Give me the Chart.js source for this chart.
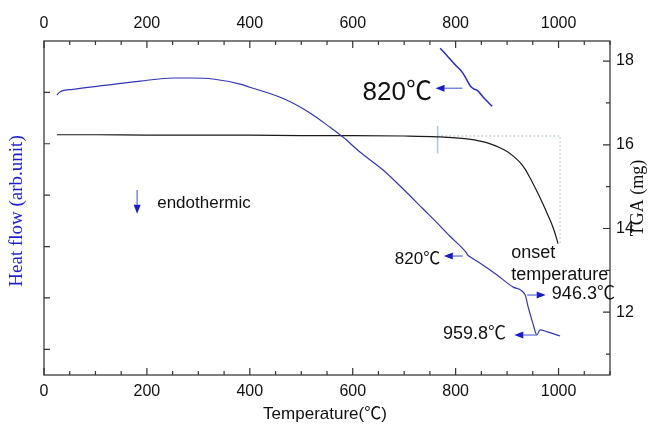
<!DOCTYPE html>
<html>
<head>
<meta charset="utf-8">
<script src="https://cdn.jsdelivr.net/npm/chart.js@4.4.1/dist/chart.umd.min.js"></script>
<style>
  html, body { margin: 0; padding: 0; background: #fff; }
  #wrap { width: 653px; height: 429px; }
</style>
</head>
<body>
<div id="wrap"><canvas id="dscTga" width="653" height="429"></canvas></div>
<script>
// heat flow (DSC) curve, arbitrary units on the left axis
const hfTemp = [25, 30, 35, 56, 122, 187, 251, 284, 328, 381, 400, 465, 517, 556, 581, 614, 659, 698, 737, 764, 789, 813, 820, 824, 828, 847, 880, 912, 935, 941, 950, 958, 964, 978, 1003];
const hfValue = [4.95, 5.0, 5.03, 5.06, 5.14, 5.22, 5.28, 5.28, 5.26, 5.16, 5.10, 4.88, 4.60, 4.32, 4.13, 3.84, 3.49, 3.12, 2.73, 2.46, 2.20, 1.97, 1.89, 1.83, 1.80, 1.68, 1.45, 1.21, 1.06, 0.82, 0.51, 0.28, 0.38, 0.34, 0.26];

// magnified piece of the heat flow curve around 820 C
const insetTemp = [770, 780, 790, 800, 813, 822, 829, 835, 842, 856, 871];
const insetValue = [5.86, 5.75, 5.64, 5.53, 5.39, 5.24, 5.12, 5.07, 5.04, 4.88, 4.73];

// TGA mass curve (mg), right axis
const tgaTemp = [25, 100, 200, 300, 400, 500, 600, 700, 765, 822, 850, 870, 886, 900, 912, 925, 935, 945, 955, 965, 975, 985, 992, 999];
const tgaMass = [16.24, 16.24, 16.23, 16.23, 16.23, 16.22, 16.22, 16.21, 16.19, 16.14, 16.08, 16.01, 15.93, 15.84, 15.73, 15.58, 15.42, 15.20, 14.96, 14.71, 14.44, 14.16, 13.93, 13.64];

// onset construction lines
const onsetTemp = [765, 1003, 1003];
const onsetMass = [16.21, 16.21, 13.6];
const markerTemp = [765, 765];
const markerMass = [16.45, 15.79];

const tempTicks = [0, 200, 400, 600, 800, 1000];
const tgaTicks = [12, 14, 16, 18];
const hfTicks = [0, 1, 2, 3, 4, 5];

// text notes: [text, temperature, heat flow, align, size]
const notes = [
  ['820℃', 754, 5.0, 'right', 26],
  ['endothermic', 220, 2.85, 'left', 17],
  ['820℃', 770, 1.76, 'right', 17],
  ['onset', 908, 1.87, 'left', 18],
  ['temperature', 908, 1.445, 'left', 18],
  ['946.3℃', 987, 1.08, 'left', 18],
  ['959.8℃', 898, 0.30, 'right', 18]
];
// arrows: [fromT, fromHF, toT, toHF]
const arrows = [
  [813, 5.08, 761, 5.08],
  [814, 1.815, 777, 1.815],
  [939, 1.056, 975, 1.056],
  [958, 0.278, 914, 0.278],
  [181, 3.10, 181, 2.64]
];

const pts = (xs, ys) => xs.map((x, i) => ({ x: x, y: ys[i] }));
const SANS = '"Liberation Sans", Arial, "Noto Sans CJK SC", sans-serif';
const SERIF = '"Liberation Serif", "Times New Roman", serif';

function arrow(ctx, x1, y1, x2, y2) {
  const ang = Math.atan2(y2 - y1, x2 - x1);
  const hl = 9, hw = 3.5;
  const bx = x2 - hl * Math.cos(ang), by = y2 - hl * Math.sin(ang);
  ctx.strokeStyle = '#7c88e0';
  ctx.lineWidth = 1.5;
  ctx.beginPath();
  ctx.moveTo(x1, y1);
  ctx.lineTo(bx, by);
  ctx.stroke();
  ctx.fillStyle = '#1a1ad0';
  ctx.beginPath();
  ctx.moveTo(x2, y2);
  ctx.lineTo(bx - hw * Math.sin(ang), by + hw * Math.cos(ang));
  ctx.lineTo(bx + hw * Math.sin(ang), by - hw * Math.cos(ang));
  ctx.closePath();
  ctx.fill();
}

const decor = {
  id: 'decor',
  afterDatasetsDraw(chart) {
    const ctx = chart.ctx;
    const a = chart.chartArea;
    const sx = chart.scales.x, sy = chart.scales.y, sy2 = chart.scales.y2;
    ctx.save();

    // frame
    ctx.strokeStyle = '#555';
    ctx.lineWidth = 1.5;
    ctx.strokeRect(a.left, a.top, a.right - a.left, a.bottom - a.top);

    // inward ticks
    ctx.lineWidth = 1.2;
    ctx.strokeStyle = '#333';
    ctx.beginPath();
    for (let t = 0; t <= 1100; t += 50) {
      const px = sx.getPixelForValue(t);
      const len = t % 200 === 0 ? 7 : 4;
      ctx.moveTo(px, a.bottom); ctx.lineTo(px, a.bottom - len);
      ctx.moveTo(px, a.top); ctx.lineTo(px, a.top + len);
    }
    for (let m = 11; m <= 18; m++) {
      const py = sy2.getPixelForValue(m);
      const len = m % 2 === 0 ? 7 : 4;
      ctx.moveTo(a.right, py); ctx.lineTo(a.right - len, py);
    }
    hfTicks.forEach(v => {
      const py = sy.getPixelForValue(v);
      ctx.moveTo(a.left, py); ctx.lineTo(a.left + 6, py);
    });
    ctx.stroke();

    // tick labels
    ctx.fillStyle = '#111';
    ctx.font = '16px ' + SANS;
    ctx.textAlign = 'center';
    ctx.textBaseline = 'middle';
    tempTicks.forEach(t => {
      const px = sx.getPixelForValue(t);
      ctx.fillText(String(t), px, a.bottom + 17);
      ctx.fillText(String(t), px, a.top - 17);
    });
    ctx.textAlign = 'left';
    tgaTicks.forEach(m => {
      ctx.fillText(String(m), a.right + 6, sy2.getPixelForValue(m));
    });

    // axis titles
    ctx.textAlign = 'center';
    ctx.font = '17px ' + SANS;
    ctx.fillText('Temperature(℃)', (a.left + a.right) / 2 - 2, 414);
    ctx.save();
    ctx.translate(17, 211);
    ctx.rotate(-Math.PI / 2);
    ctx.fillStyle = '#1f1fd0';
    ctx.font = '19px ' + SERIF;
    ctx.fillText('Heat flow (arb.unit)', 0, 0);
    ctx.restore();
    ctx.save();
    ctx.translate(638, 198);
    ctx.rotate(-Math.PI / 2);
    ctx.fillStyle = '#111';
    ctx.font = '18px ' + SERIF;
    ctx.fillText('TGA (mg)', 0, 0);
    ctx.restore();

    // notes and arrows
    notes.forEach(n => {
      ctx.font = n[4] + 'px ' + SANS;
      ctx.textAlign = n[3];
      ctx.fillStyle = '#111';
      ctx.fillText(n[0], sx.getPixelForValue(n[1]), sy.getPixelForValue(n[2]));
    });
    arrows.forEach(r => {
      arrow(ctx, sx.getPixelForValue(r[0]), sy.getPixelForValue(r[1]),
        sx.getPixelForValue(r[2]), sy.getPixelForValue(r[3]));
    });
    ctx.restore();
  }
};

const hidden = { ticks: { display: false }, grid: { display: false }, border: { display: false } };

new Chart(document.getElementById('dscTga'), {
  type: 'line',
  data: {
    datasets: [
      { data: pts(hfTemp, hfValue), yAxisID: 'y', borderColor: '#3434b4', borderWidth: 1.2, cubicInterpolationMode: 'monotone' },
      { data: pts(insetTemp, insetValue), yAxisID: 'y', borderColor: '#2a2ac0', borderWidth: 1.5, cubicInterpolationMode: 'monotone' },
      { data: pts(tgaTemp, tgaMass), yAxisID: 'y2', borderColor: '#1a1a1a', borderWidth: 1.2, cubicInterpolationMode: 'monotone' },
      { data: pts(onsetTemp, onsetMass), yAxisID: 'y2', borderColor: '#b4cdd8', borderWidth: 1.3, borderDash: [1.5, 2.5] },
      { data: pts(markerTemp, markerMass), yAxisID: 'y2', borderColor: '#a9c8dc', borderWidth: 1.5 }
    ]
  },
  options: {
    responsive: false,
    animation: false,
    events: [],
    elements: { point: { radius: 0 } },
    layout: { padding: 0 },
    plugins: { legend: { display: false }, tooltip: { enabled: false } },
    scales: {
      x: { type: 'linear', position: 'bottom', min: 0, max: 1100, ...hidden, afterFit(s) { s.height = 54; } },
      x2: { type: 'linear', position: 'top', min: 0, max: 1100, ...hidden, afterFit(s) { s.height = 41; } },
      y: { type: 'linear', position: 'left', min: -0.5, max: 6.0, ...hidden, afterFit(s) { s.width = 44; } },
      y2: { type: 'linear', position: 'right', min: 10.5, max: 18.48, ...hidden, afterFit(s) { s.width = 43; } }
    }
  },
  plugins: [decor]
});
</script>
</body>
</html>
